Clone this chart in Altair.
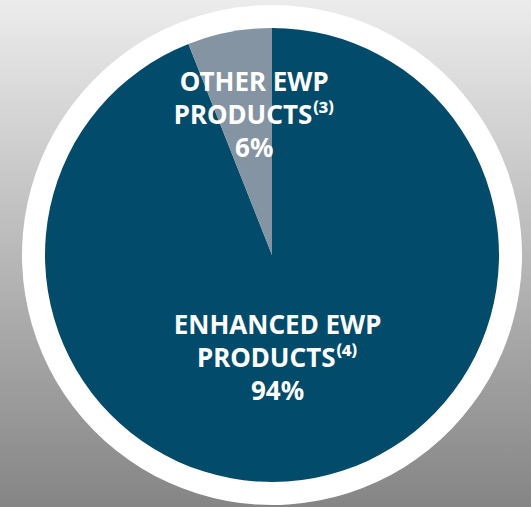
import altair as alt
import pandas as pd

categories = ["ENHANCED EWP PRODUCTS", "OTHER EWP PRODUCTS"]
shares = [94, 6]
labels = ["ENHANCED EWP\nPRODUCTS⁽⁴⁾\n94%", "OTHER EWP\nPRODUCTS⁽³⁾\n6%"]
colors = ["#024B6A", "#8494A3"]

source = pd.DataFrame({"segment": categories, "share": shares, "label": labels})

W, H = 518, 504

bg = alt.Chart(alt.Data(values=[{}])).mark_rect(
    fill=alt.Gradient(
        gradient="linear",
        stops=[alt.GradientStop(color="#ececec", offset=0),
               alt.GradientStop(color="#858585", offset=1)],
        x1=0, x2=0, y1=0, y2=1,
    )
).encode(x=alt.value(-13), x2=alt.value(W), y=alt.value(-3), y2=alt.value(H))

ring = alt.Chart(source).mark_arc(radius=250, color="white").encode(
    theta=alt.Theta("share:Q", stack=True),
    order=alt.Order("segment:N", sort="ascending"),
)

pie = alt.Chart(source).mark_arc(radius=227).encode(
    theta=alt.Theta("share:Q", stack=True),
    color=alt.Color("segment:N", scale=alt.Scale(domain=categories, range=colors), legend=None),
    order=alt.Order("segment:N", sort="ascending"),
)

text_base = alt.Chart(source).transform_window(
    cum="sum(share)", sort=[alt.SortField("segment", order="ascending")]
).transform_calculate(mid="datum.cum - datum.share / 2")

font = dict(font="Noto Sans", fontWeight="bold", fontSize=26, color="white",
            lineBreak="\n", lineHeight=33, align="center", baseline="middle")

txt_other = text_base.transform_filter(alt.datum.segment == categories[1]).mark_text(
    radius=175, dx=15, **font
).encode(theta=alt.Theta("mid:Q", scale=alt.Scale(domain=[0, 100])), text="label:N")

txt_enh = text_base.transform_filter(alt.datum.segment == categories[0]).mark_text(
    radius=72, dx=-8, **font
).encode(theta=alt.Theta("mid:Q", scale=alt.Scale(domain=[0, 100])), text="label:N")

chart = alt.layer(bg, ring, pie, txt_other, txt_enh).resolve_scale(
    theta="independent"
).properties(
    width=W, height=H,
    padding={"left": 13, "top": 3, "right": 0, "bottom": 0},
    autosize=alt.AutoSizeParams(type="none"),
).configure_view(stroke=None)

chart.save("out.html", embed_options={"renderer": "svg", "actions": False})
